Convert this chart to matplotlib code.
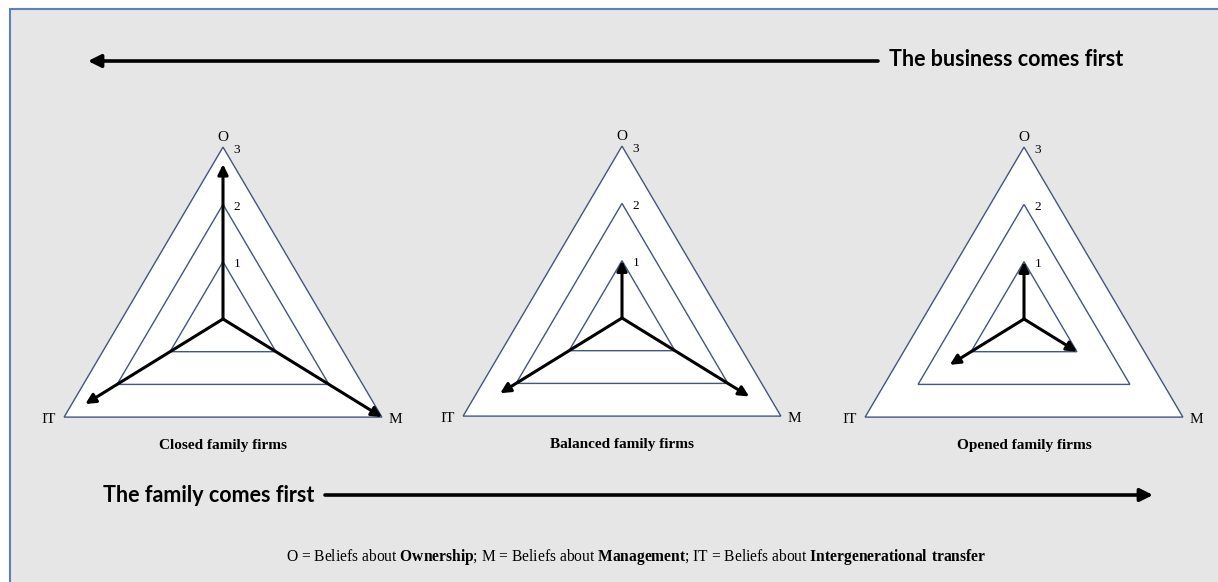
import matplotlib
matplotlib.use("Agg")
import matplotlib.pyplot as plt
from matplotlib.patches import Rectangle, Polygon
import numpy as np

# ---------------- data ----------------
firms = ['Closed family firms', 'Balanced family firms', 'Opened family firms']
dims = ['O', 'M', 'IT']
levels = [1, 2, 3]
o_vals = [2.7, 1.0, 1.0]
m_vals = [3.0, 2.4, 1.0]
it_vals = [2.6, 2.3, 1.4]

top_label = 'The business comes first'
bottom_label = 'The family comes first'
footer = (r'O = Beliefs about $\mathbf{Ownership}$; M = Beliefs about '
          r'$\mathbf{Management}$; IT = Beliefs about '
          r'$\mathbf{Intergenerational\ transfer}$')

# ---------------- layout ----------------
W, H = 1218, 582
serif = 'Liberation Serif'
sans = 'Lato'
edge_col = '#44567f'
frame_col = '#5b7fbf'

plt.rcParams['mathtext.fontset'] = 'custom'
plt.rcParams['mathtext.rm'] = 'Liberation Serif'
plt.rcParams['mathtext.bf'] = 'Liberation Serif:bold'

# axis directions in panel data units (hub at 0,0)
ang = np.deg2rad(34.8)
dirs = {'O': np.array([0.0, 1.0]),
        'M': np.array([np.cos(ang), -np.sin(ang)]),
        'IT': np.array([-np.cos(ang), -np.sin(ang)])}
sx, sy = 64.5, 57.3          # px per unit
xl, xr, yb, yt = -3.0, 3.0, -2.3, 3.4
hubs = [(223, 319), (622, 318), (1024, 319)]

fig = plt.figure(figsize=(W / 100, H / 100), dpi=100)
fig.patch.set_facecolor('white')

ax0 = fig.add_axes([0, 0, 1, 1])
ax0.set_xlim(0, W)
ax0.set_ylim(H, 0)
ax0.axis('off')
ax0.add_patch(Rectangle((10, 9), W, H, facecolor='#e6e6e6',
                        edgecolor=frame_col, lw=1.5, zorder=0))

# long direction arrows
ax0.annotate('', xy=(88, 61), xytext=(878, 61),
             arrowprops=dict(arrowstyle='-|>', lw=2.6, color='black',
                             mutation_scale=19, shrinkA=0, shrinkB=0))
ax0.text(889, 60, top_label, fontsize=15.5, fontweight='bold', family=sans,
         ha='left', va='center')
ax0.annotate('', xy=(1153, 495), xytext=(325, 495),
             arrowprops=dict(arrowstyle='-|>', lw=2.6, color='black',
                             mutation_scale=19, shrinkA=0, shrinkB=0))
ax0.text(103, 495, bottom_label, fontsize=15.5, fontweight='bold', family=sans,
         ha='left', va='center')

ax0.text(636, 557, footer, fontsize=11.2, family=serif, ha='center', va='center')

for i, name in enumerate(firms):
    hx, hy = hubs[i]
    left = hx + xl * sx
    top = hy - yt * sy
    w = (xr - xl) * sx
    h = (yt - yb) * sy
    ax = fig.add_axes([left / W, 1 - (top + h) / H, w / W, h / H])
    ax.set_xlim(xl, xr)
    ax.set_ylim(yb, yt)
    ax.axis('off')
    ax.patch.set_alpha(0)

    for lv in levels[::-1]:
        pts = np.array([dirs[d] * lv for d in ['O', 'M', 'IT']])
        ax.add_patch(Polygon(pts, closed=True,
                             facecolor='white' if lv == max(levels) else 'none',
                             edgecolor=edge_col, lw=1.0, zorder=1))
        apex = dirs['O'] * lv
        ax.annotate(str(lv), xy=apex, xytext=(10, -2), textcoords='offset points',
                    fontsize=9.5, family=serif, ha='center', va='center')

    vals = {'O': o_vals[i], 'M': m_vals[i], 'IT': it_vals[i]}
    for d in dims:
        ax.annotate('', xy=dirs[d] * vals[d], xytext=(0, 0),
                    arrowprops=dict(arrowstyle='-|>', lw=2.2, color='black',
                                    mutation_scale=15, shrinkA=0, shrinkB=0),
                    zorder=3)

    top_v = dirs['O'] * max(levels)
    ax.annotate('O', xy=top_v, xytext=(0, 7), textcoords='offset points',
                fontsize=11, family=serif, ha='center', va='center')
    m_v = dirs['M'] * max(levels)
    ax.annotate('M', xy=m_v, xytext=(5, -2), textcoords='offset points',
                fontsize=11, family=serif, ha='left', va='center')
    it_v = dirs['IT'] * max(levels)
    ax.annotate('IT', xy=it_v, xytext=(-6, -2), textcoords='offset points',
                fontsize=11, family=serif, ha='right', va='center')
    ax.text(0, -2.2, name, fontsize=11, family=serif, fontweight='bold',
            ha='center', va='center')

fig.savefig('out.png', dpi=100)
